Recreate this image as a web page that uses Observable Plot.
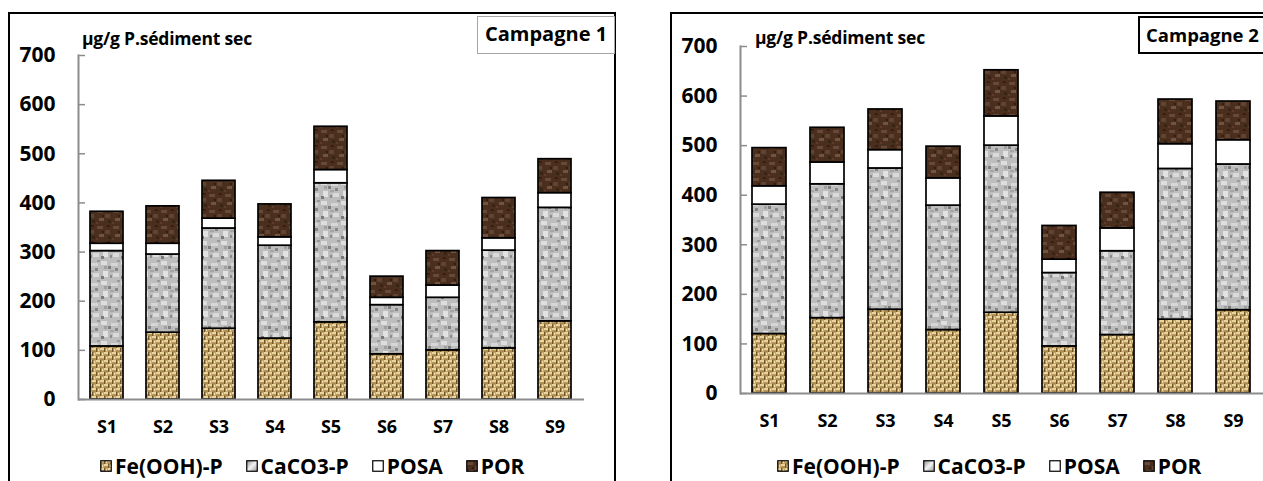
<!DOCTYPE html>
<html>
<head>
<meta charset="utf-8">
<script src="https://cdn.jsdelivr.net/npm/d3@7"></script>
<script src="https://cdn.jsdelivr.net/npm/@observablehq/plot@0.6"></script>
<style>
  html, body { margin: 0; padding: 0; background: #fff; }
  #root { position: relative; width: 1263px; height: 481px; overflow: hidden; background: #fff;
          font-family: "Open Sans", sans-serif; font-weight: 700; color: #000; }
  .frame { position: absolute; border: 2px solid #000; box-sizing: border-box; }
  .unit { position: absolute; font-size: 17.5px; line-height: 22px; white-space: nowrap; letter-spacing: -0.2px; }
  .camp { position: absolute; box-sizing: border-box; height: 38px; font-size: 20px; line-height: 34px;
          padding-left: 7px; white-space: nowrap; background: #fff; }
  .legend { position: absolute; display: flex; align-items: center; gap: 23px; font-size: 21px;
            line-height: 26px; white-space: nowrap; }
  .legend .item { display: flex; align-items: center; gap: 3px; }
  .legend svg { display: block; }
  .plot { position: absolute; top: 0; }
</style>
</head>
<body>
<svg width="0" height="0" style="position:absolute">
  <defs>
    <pattern id="pFe" patternUnits="userSpaceOnUse" width="8" height="8">
      <rect width="8" height="8" fill="#c8a868"/>
      <rect x="0" y="0" width="4" height="2" fill="#ead59e"/>
      <rect x="4" y="4" width="4" height="2" fill="#ead59e"/>
      <rect x="4" y="0" width="1.3" height="4" fill="#74552a"/>
      <rect x="0" y="4" width="1.3" height="4" fill="#74552a"/>
      <rect x="0" y="2.6" width="4" height="1.1" fill="#9c7c46"/>
      <rect x="4" y="6.6" width="4" height="1.1" fill="#9c7c46"/>
      <rect x="6" y="1" width="1" height="2" fill="#f1e0b0"/>
      <rect x="2" y="5" width="1" height="2" fill="#f1e0b0"/>
    </pattern>
    <pattern id="pCa" patternUnits="userSpaceOnUse" width="20" height="20">
      <rect width="20" height="20" fill="#bdbdbd"/>
      <rect x="1" y="1" width="6" height="4" fill="#dedede"/>
      <rect x="11" y="3" width="7" height="3" fill="#d6d6d6"/>
      <rect x="3" y="11" width="5" height="6" fill="#e2e2e2"/>
      <rect x="13" y="13" width="6" height="4" fill="#dadada"/>
      <rect x="8" y="6" width="3" height="3" fill="#7f7f7f"/>
      <rect x="15" y="8" width="3" height="3" fill="#878787"/>
      <rect x="1" y="16" width="3" height="3" fill="#7a7a7a"/>
      <rect x="10" y="15" width="2" height="3" fill="#8c8c8c"/>
      <rect x="4" y="6" width="3" height="3" fill="#a0a0a0"/>
      <rect x="10" y="10" width="4" height="2" fill="#a5a5a5"/>
      <rect x="17" y="0" width="3" height="2" fill="#999999"/>
    </pattern>
    <pattern id="pPor" patternUnits="userSpaceOnUse" width="16" height="16">
      <rect width="16" height="16" fill="#4a2f1f"/>
      <rect x="1" y="2" width="6" height="3" fill="#694935"/>
      <rect x="9" y="6" width="5" height="4" fill="#624330"/>
      <rect x="3" y="10" width="5" height="3" fill="#73533e"/>
      <rect x="11" y="1" width="3" height="2" fill="#362013"/>
      <rect x="6" y="7" width="2" height="2" fill="#331e12"/>
      <rect x="12" y="12" width="3" height="3" fill="#392315"/>
      <rect x="0" y="14" width="2" height="2" fill="#5c3e2b"/>
    </pattern>
    <linearGradient id="gCa" x1="0" y1="0" x2="1" y2="1">
      <stop offset="0" stop-color="#8f8f8f"/>
      <stop offset="0.5" stop-color="#f2f2f2"/>
      <stop offset="1" stop-color="#9a9a9a"/>
    </linearGradient>
  </defs>
</svg>
<div id="root"></div>
<script>
// ---- data ----
const sites = ["S1", "S2", "S3", "S4", "S5", "S6", "S7", "S8", "S9"];
const seriesNames = ["Fe(OOH)-P", "CaCO3-P", "POSA", "POR"];
const yTicks = [0, 100, 200, 300, 400, 500, 600, 700];
const unitLabel = "µg/g P.sédiment sec";
const campaignLabels = ["Campagne 1", "Campagne 2"];

// Campagne 1 (segment values, µg/g)
const c1Fe    = [108, 136, 144, 124, 157,  92, 100, 104, 159];
const c1CaCO3 = [194, 159, 204, 189, 283, 100, 107, 199, 231];
const c1POSA  = [ 15,  22,  20,  17,  27,  15,  25,  25,  30];
const c1POR   = [ 65,  76,  77,  67,  88,  43,  70,  82,  69];

// Campagne 2 (segment values, µg/g)
const c2Fe    = [120, 152, 169, 128, 163,  95, 118, 149, 168];
const c2CaCO3 = [261, 270, 285, 251, 337, 148, 169, 304, 294];
const c2POSA  = [ 37,  44,  37,  55,  59,  27,  46,  50,  49];
const c2POR   = [ 77,  70,  82,  64,  93,  68,  72,  90,  78];

const fills = ["url(#pFe)", "url(#pCa)", "#ffffff", "url(#pPor)"];
const swatchFills = ["url(#pFe)", "url(#gCa)", "#ffffff", "url(#pPor)"];

function toRows(fe, ca, posa, por) {
  const cols = [fe, ca, posa, por];
  const rows = [];
  sites.forEach((s, i) => seriesNames.forEach((n, k) => rows.push({site: s, series: n, value: cols[k][i]})));
  return rows;
}

const root = document.getElementById("root");

function makePanel(cfg) {
  const innerW = cfg.width - cfg.marginLeft - cfg.marginRight;
  const chart = Plot.plot({
    width: cfg.width,
    height: cfg.height,
    marginLeft: cfg.marginLeft,
    marginRight: cfg.marginRight,
    marginTop: cfg.marginTop,
    marginBottom: cfg.marginBottom,
    style: {fontFamily: "'Open Sans', sans-serif", fontWeight: 700, fontSize: "18px", color: "#000", background: "transparent", overflow: "visible"},
    x: {domain: sites, paddingInner: 0.41, paddingOuter: 0.205, label: null},
    y: {domain: [0, 700], label: null},
    color: {domain: seriesNames, range: fills},
    marks: [
      Plot.barY(cfg.data, Plot.stackY({x: "site", y: "value", fill: "series", stroke: "#000", strokeWidth: 1.7})),
      Plot.ruleY(yTicks, {y: d => d, stroke: "#8c8c8c", strokeWidth: 1.5, insetRight: innerW - 7}),
      Plot.frame({anchor: "left", stroke: "#8c8c8c", strokeWidth: 2}),
      Plot.ruleY([0], {stroke: "#8c8c8c", strokeWidth: 2}),
      Plot.axisY({ticks: yTicks, tickSize: 0, tickPadding: 23, fontSize: 21, fontWeight: 700, label: null}),
      Plot.axisX({tickSize: 0, tickPadding: 21, fontSize: 18, fontWeight: 700, label: null})
    ]
  });
  chart.classList.add("plot");
  chart.style.left = cfg.left + "px";
  root.appendChild(chart);

  const frame = document.createElement("div");
  frame.className = "frame";
  Object.assign(frame.style, cfg.frame);
  root.appendChild(frame);

  const unit = document.createElement("div");
  unit.className = "unit";
  unit.textContent = unitLabel;
  unit.style.left = cfg.unitX + "px";
  unit.style.top = cfg.unitY + "px";
  root.appendChild(unit);

  const camp = document.createElement("div");
  camp.className = "camp";
  camp.textContent = cfg.camp;
  Object.assign(camp.style, cfg.campStyle);
  root.appendChild(camp);

  const legend = document.createElement("div");
  legend.className = "legend";
  legend.style.left = cfg.legendX + "px";
  legend.style.top = cfg.legendY + "px";
  seriesNames.forEach((n, k) => {
    const item = document.createElement("div");
    item.className = "item";
    item.innerHTML = `<svg width="12" height="12"><rect x="0.75" y="0.75" width="10.5" height="10.5" fill="${swatchFills[k]}" stroke="#000" stroke-width="1.2"/></svg><span>${n}</span>`;
    legend.appendChild(item);
  });
  root.appendChild(legend);
}

makePanel({
  data: toRows(c1Fe, c1CaCO3, c1POSA, c1POR),
  left: 0, width: 600, height: 440,
  marginLeft: 78, marginRight: 16, marginTop: 55, marginBottom: 41,
  frame: {left: "8px", top: "12px", width: "608px", height: "520px"},
  unitX: 82, unitY: 27,
  camp: campaignLabels[0],
  campStyle: {left: "477px", top: "16px", width: "138px", border: "1px solid #a6a6a6"},
  legendX: 100, legendY: 453
});

makePanel({
  data: toRows(c2Fe, c2CaCO3, c2POSA, c2POR),
  left: 640, width: 623, height: 434,
  marginLeft: 100, marginRight: 0, marginTop: 46, marginBottom: 41,
  frame: {left: "670px", top: "12px", width: "700px", height: "520px"},
  unitX: 755, unitY: 26,
  camp: campaignLabels[1],
  campStyle: {left: "1138px", top: "16px", width: "160px", border: "2px solid #000", lineHeight: "33px", fontSize: "18.5px", paddingLeft: "6px"},
  legendX: 777, legendY: 453
});
</script>
</body>
</html>
